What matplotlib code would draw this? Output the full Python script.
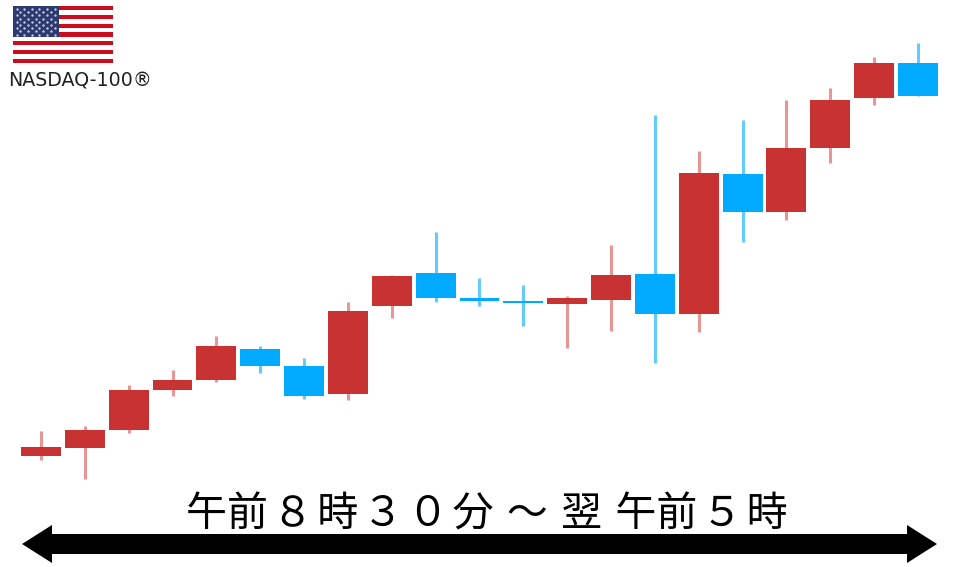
#!/usr/bin/env python3
# candlestick sketch: NASDAQ-100 session, 8:30 to 5:00 next morning
import numpy as np
import matplotlib
matplotlib.use("Agg")
import matplotlib.pyplot as plt
from matplotlib.patches import Polygon, Rectangle

plt.rcParams["font.family"] = ["Noto Sans CJK JP", "DejaVu Sans"]

RED = "#C93232"; BLUE = "#00AAFF"
RED_WICK = "#E89595"; BLUE_WICK = "#62CBFF"

# no price axis in the picture, so values are on an arbitrary scale (height from the bottom)
open_ = [111, 119, 137, 177, 187, 218, 201, 173, 261, 269, 269, 266, 263, 267, 293, 253, 393, 355, 419, 469, 504]
close = [120, 137, 177, 187, 221, 201, 171, 256, 291, 294, 266.5, 264.5, 269, 292, 253, 394, 355, 419, 467, 504, 471]
high = [136, 141, 182, 197, 231, 221, 209, 265, 292, 335, 289, 282, 271, 322, 452, 416, 447, 467, 479, 510, 524]
low = [107, 88, 134, 171, 185, 194, 168, 167, 249, 265, 261, 241, 219, 236, 204, 235, 325, 347, 404, 462, 471]
# blue candles in the picture
blue = [5, 6, 9, 10, 11, 14, 16, 20]

x = np.arange(len(open_))
o = np.array(open_); c = np.array(close)

fig = plt.figure(figsize=(9.6, 5.67), dpi=100)
ax = fig.add_axes([0, 0, 1, 1])
ax.set_xlim(-0.935, 20.958); ax.set_ylim(0, 567)
ax.axis("off")

ax.vlines(x, low, high, colors=[BLUE_WICK if i in blue else RED_WICK for i in x], lw=2.2, zorder=1)
ax.bar(x, np.abs(c - o), bottom=np.minimum(o, c), width=0.91,
       color=[BLUE if i in blue else RED for i in x], zorder=2)

# overlay in pixel coords for the flag, labels and the arrow
ov = fig.add_axes([0, 0, 1, 1])
ov.set_xlim(0, 960); ov.set_ylim(567, 0)
ov.axis("off"); ov.patch.set_alpha(0)

ov.add_patch(Rectangle((13, 6), 100, 57, color="white", zorder=1))
for i in range(0, 13, 2):
    ov.add_patch(Rectangle((13, 6 + i * 57 / 13), 100, 57 / 13, color="#CC0C1E", lw=0, zorder=2))
ov.add_patch(Rectangle((13, 6), 46, 30.7, color="#2B3A70", lw=0, zorder=3))
sx, sy = [], []
for r in range(9):
    n = 6 if r % 2 == 0 else 5
    for k in range(n):
        sx.append(16.5 + k * 7.6 + (0 if r % 2 == 0 else 3.8))
        sy.append(9 + r * 3.2)
ov.scatter(sx, sy, s=3, color="#C8CCDC", lw=0, zorder=4)

ov.text(8, 86.5, "NASDAQ-100®", fontsize=13.7, family=["DejaVu Sans"], color="#222222", ha="left", va="baseline")
hs = "\u200a"
label = hs.join(["午前", "８", "時", "３", "０", "分 ", "～", " 翌 ", "午前", "５", "時"])
ov.text(486.5, 527, label, fontsize=29.5, color="black", ha="center", va="baseline")

ov.add_patch(Polygon([(22, 544), (52, 525), (52, 534), (907, 534), (907, 525), (937, 544),
                      (907, 563), (907, 554), (52, 554), (52, 563)], closed=True, color="black", lw=0))

fig.savefig("out.png", dpi=100)
